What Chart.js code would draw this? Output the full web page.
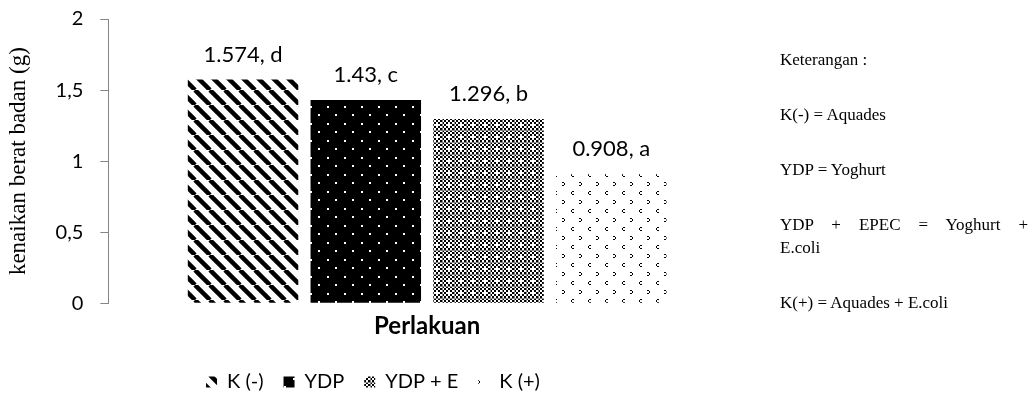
<!DOCTYPE html>
<html>
<head>
<meta charset="utf-8">
<script src="https://cdn.jsdelivr.net/npm/chart.js@4.4.0/dist/chart.umd.min.js"></script>
<style>
  html, body { margin: 0; padding: 0; background: #fff; }
  #wrap { position: relative; width: 1032px; height: 410px; }
  #notes {
    position: absolute; left: 780px; top: 48px; width: 248px;
    font-family: "Liberation Serif", "Times New Roman", serif;
    font-size: 17px; line-height: 23px; color: #000;
  }
  #notes p { margin: 0 0 32px 0; }
  #notes .just { text-align: justify; text-align-last: justify; }
</style>
</head>
<body>
<div id="wrap">
  <canvas id="chart1" width="1032" height="410"></canvas>
  <div id="notes"></div>
</div>
<script>
// data
const categories = ['Perlakuan'];
const seriesNames = ['K (-)', 'YDP', 'YDP + E', 'K (+)'];
const seriesValues = [1.574, 1.43, 1.296, 0.908];
const seriesLetters = ['d', 'c', 'b', 'a'];
const yTicks = [0, 0.5, 1, 1.5, 2];
const yTickLabels = ['0', '0,5', '1', '1,5', '2'];
const notes = [
  ['Keterangan :'],
  ['K(-) = Aquades'],
  ['YDP = Yoghurt'],
  ['YDP + EPEC = Yoghurt +', 'E.coli'],
  ['K(+) = Aquades + E.coli']
];

// side notes, a wrapped note gets its first line justified
const notesBox = document.getElementById('notes');
notes.forEach(lines => {
  const p = document.createElement('p');
  lines.forEach((t, k) => {
    const d = document.createElement('div');
    d.textContent = t;
    if (k < lines.length - 1) d.className = 'just';
    p.appendChild(d);
  });
  notesBox.appendChild(p);
});

// fill patterns for the bars
function makeTile(w, h, draw) {
  const c = document.createElement('canvas');
  c.width = w; c.height = h;
  const g = c.getContext('2d');
  draw(g, w, h);
  return document.getElementById('chart1').getContext('2d').createPattern(c, 'repeat');
}

const stripes = makeTile(15, 15, (g, w, h) => {
  g.fillStyle = '#fff'; g.fillRect(0, 0, w, h);
  g.strokeStyle = '#000'; g.lineWidth = 4.5;
  for (let k = -1; k <= 1; k++) {
    g.beginPath();
    g.moveTo(k * w, 0);
    g.lineTo(k * w + w, h);
    g.stroke();
  }
});

const dotsOnBlack = makeTile(17, 17, (g, w, h) => {
  g.fillStyle = '#000'; g.fillRect(0, 0, w, h);
  g.fillStyle = '#fff';
  g.fillRect(4, 4, 2, 2);
  g.fillRect(12, 12, 2, 2);
});

const checker = makeTile(12, 12, (g, w, h) => {
  g.fillStyle = '#fff'; g.fillRect(0, 0, w, h);
  g.fillStyle = '#000';
  for (let y = 0; y < h; y += 2) {
    for (let x = 0; x < w; x += 2) {
      if (((x + y) / 2) % 2 === 0) g.fillRect(x, y, 2, 2);
    }
  }
  g.fillStyle = '#fff';
  g.fillRect(4, 2, 2, 6);
  g.fillRect(2, 4, 6, 2);
  g.fillStyle = '#888';
  g.fillRect(0, 10, 12, 1);
  g.fillRect(10, 0, 1, 12);
});

const marks = makeTile(17, 18, (g, w, h) => {
  g.fillStyle = '#fff'; g.fillRect(0, 0, w, h);
  g.fillStyle = '#000';
  // ">" mark
  g.fillRect(1, 2, 2, 1); g.fillRect(3, 3, 1, 2); g.fillRect(1, 5, 2, 1);
  // "<" mark
  g.fillRect(11, 11, 2, 1); g.fillRect(10, 12, 1, 2); g.fillRect(11, 14, 2, 1);
});

const fills = [stripes, dotsOnBlack, checker, marks];

// "value, letter" above each bar
const valueLabels = {
  id: 'valueLabels',
  afterDatasetsDraw(chart) {
    const ctx = chart.ctx;
    ctx.save();
    ctx.font = '22px Lato';
    ctx.fillStyle = '#000';
    ctx.textAlign = 'center';
    ctx.textBaseline = 'middle';
    chart.data.datasets.forEach((ds, i) => {
      const bar = chart.getDatasetMeta(i).data[0];
      ctx.fillText(seriesValues[i] + ', ' + seriesLetters[i], bar.x, bar.y - 25);
    });
    ctx.restore();
  }
};

const ctx = document.getElementById('chart1').getContext('2d');
const chart = new Chart(ctx, {
  type: 'bar',
  data: {
    labels: categories,
    datasets: seriesNames.map((name, i) => ({
      label: name,
      data: [seriesValues[i]],
      backgroundColor: fills[i],
      borderColor: 'rgba(0,0,0,0)',
      borderWidth: 0,
      categoryPercentage: 0.77,
      barPercentage: 0.9
    }))
  },
  options: {
    responsive: false,
    animation: false,
    devicePixelRatio: 1,
    layout: { padding: { top: 0, right: 286, bottom: 8, left: 0 } },
    plugins: {
      tooltip: { enabled: false },
      legend: {
        position: 'bottom',
        labels: {
          font: { family: 'Lato', size: 20 },
          color: '#000',
          boxWidth: 11,
          boxHeight: 11,
          padding: 20
        }
      }
    },
    scales: {
      x: {
        ticks: { display: false },
        grid: { display: false, drawTicks: false },
        border: { display: false },
        title: {
          display: true,
          text: 'Perlakuan',
          color: '#000',
          font: { family: 'Lato', size: 24, weight: 'bold' },
          padding: { top: 9, bottom: 11 }
        }
      },
      y: {
        min: 0,
        max: 2,
        afterBuildTicks(scale) {
          scale.ticks = yTicks.map(v => ({ value: v }));
        },
        afterFit(scale) {
          scale.paddingTop = 19;
        },
        ticks: {
          callback: (v, i) => yTickLabels[i],
          color: '#000',
          font: { family: 'Lato', size: 20 },
          padding: 17
        },
        grid: {
          drawOnChartArea: false,
          drawTicks: true,
          tickLength: 8,
          color: '#868686',
          tickColor: '#868686'
        },
        border: { display: true, color: '#868686', width: 1 },
        title: {
          display: true,
          text: 'kenaikan berat badan (g)',
          color: '#000',
          font: { family: 'Liberation Serif', size: 23 },
          padding: { top: 5, bottom: 6 }
        }
      }
    }
  },
  plugins: [valueLabels]
});
</script>
</body>
</html>
